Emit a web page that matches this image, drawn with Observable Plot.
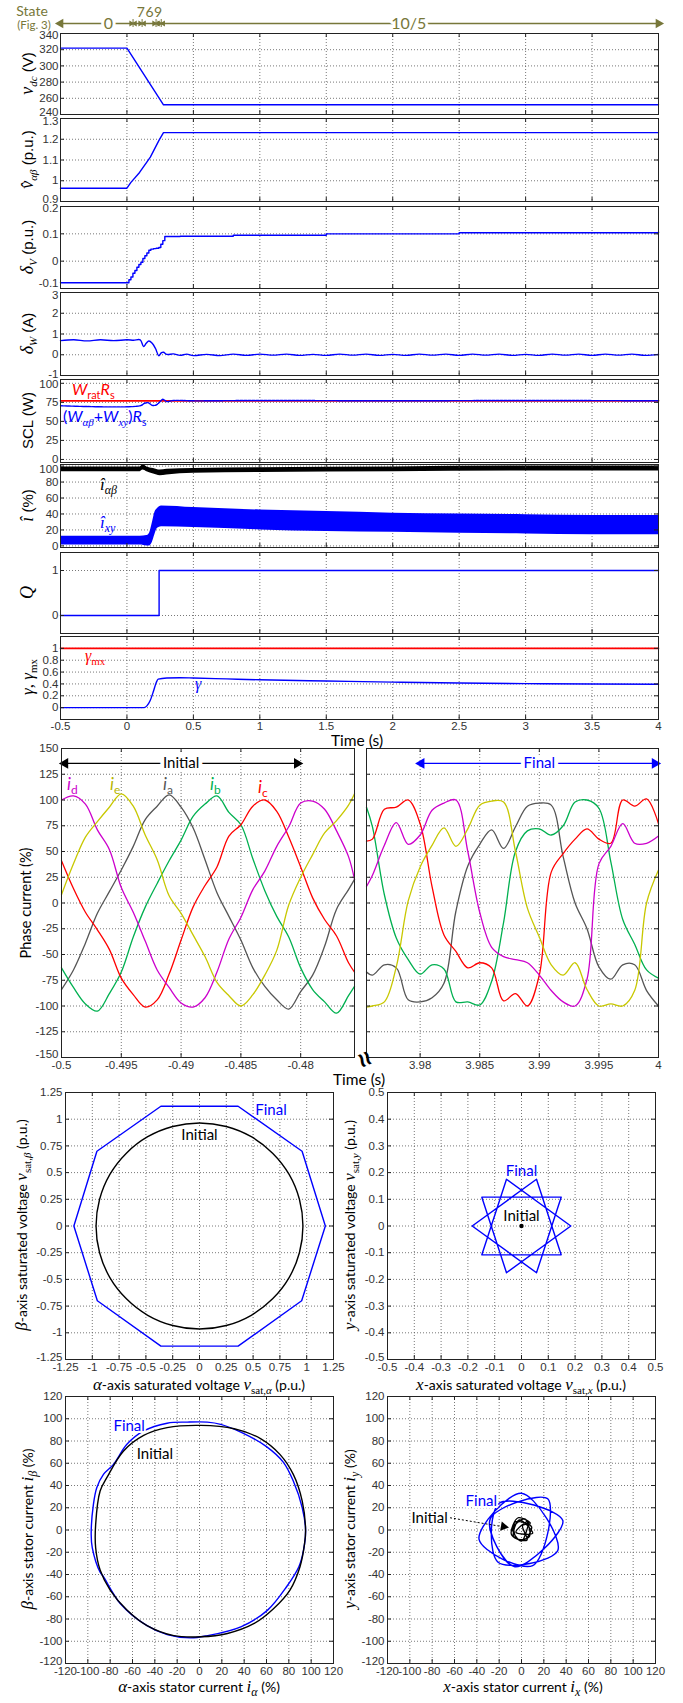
<!DOCTYPE html>
<html>
<head>
<meta charset="utf-8">
<script src="https://cdn.jsdelivr.net/npm/d3@7"></script>
<script src="https://cdn.jsdelivr.net/npm/@observablehq/plot@0.6"></script>
<style>
html,body{margin:0;padding:0;background:#fff;}
#page{position:relative;width:683px;height:1703px;overflow:hidden;background:#fff;}
#page svg{position:absolute;overflow:visible;background:transparent;max-width:none;}
</style>
</head>
<body>
<div id="page"></div>
<script>
// ================= DATA =================
// State row (Fig. 3)
const stateStart = [-0.5, 0.046, 0.114, 0.219, 0.258];
const stateEnd   = [0.046, 0.114, 0.219, 0.258, 4];
const stateLabel = ["0", "7", "6", "9", "10/5"];
const stateLabelT = [-0.14, 0.104, 0.17, 0.235, 2.12];

const timeTicks = [-0.5, 0, 0.5, 1, 1.5, 2, 2.5, 3, 3.5, 4];

// v_dc (V)
const vdcT = [-0.5, 0, 0.275, 4];
const vdcV = [322, 322, 252, 252];
// v^_ab (p.u.)
const vabT = [-0.5, 0, 0.03, 0.095, 0.176, 0.242, 0.275, 4];
const vabV = [0.964, 0.964, 0.992, 1.04, 1.114, 1.196, 1.232, 1.232];
// delta_V (p.u.)
const dvT = [-0.5, 0, 0.015, 0.03, 0.045, 0.06, 0.075, 0.09, 0.105, 0.12, 0.135, 0.15, 0.165, 0.18, 0.2, 0.22, 0.24, 0.255, 0.27, 0.285, 0.4, 0.8, 1.5, 2.5, 4];
const dvV = [-0.079, -0.079, -0.068, -0.058, -0.044, -0.034, -0.022, -0.012, -0.004, 0.01, 0.02, 0.03, 0.04, 0.044, 0.046, 0.047, 0.05, 0.062, 0.075, 0.09, 0.091, 0.095, 0.1, 0.104, 0.107];
// delta_W (A)
const dwT = [-0.5, -0.4, -0.3, -0.2, -0.1, 0, 0.05, 0.1, 0.125, 0.145, 0.165, 0.19, 0.215, 0.24, 0.26, 0.275, 0.3, 0.35, 0.4, 0.45,
  0.5, 0.6, 0.7, 0.8, 0.9, 1, 1.1, 1.2, 1.3, 1.4, 1.5, 1.6, 1.7, 1.8, 1.9, 2, 2.1, 2.2, 2.3, 2.4, 2.5, 2.6, 2.7, 2.8, 2.9, 3, 3.1, 3.2, 3.3, 3.4, 3.5, 3.6, 3.7, 3.8, 3.9, 4];
const dwV = [0.68, 0.72, 0.67, 0.72, 0.68, 0.72, 0.7, 0.72, 0.4, 0.55, 0.66, 0.55, 0.3, -0.05, 0.1, 0.12, 0.02, 0.04, -0.03, 0.03,
  -0.04, 0.02, -0.04, 0.03, -0.03, 0.03, -0.02, 0.03, -0.03, 0.02, -0.03, 0.03, -0.02, 0.03, -0.03, 0.02, -0.03, 0.03, -0.02, 0.03,
  -0.03, 0.03, -0.02, 0.03, -0.03, 0.02, -0.03, 0.03, -0.02, 0.03, -0.03, 0.03, -0.02, 0.03, -0.03, 0.02];
// SCL (W)
const sclRedT = [-0.5, 4];
const sclRedV = [77, 77];
const sclT = [-0.5, 0.1, 0.13, 0.16, 0.19, 0.22, 0.25, 0.27, 0.3, 0.35, 0.5, 1, 2, 3, 4];
const sclV = [70.5, 70.5, 73.5, 74.5, 71, 71.5, 76, 79, 76, 77.5, 77, 77.5, 77, 77.5, 77];
// i^ (%) bands
const ixyT  = [-0.5, 0, 0.1, 0.15, 0.17, 0.19, 0.21, 0.23, 0.26, 0.5, 1, 1.5, 2, 2.5, 3, 3.5, 4];
const ixyLo = [1, 1, 1, 0, 0, 4, 14, 22, 24, 23, 20, 18, 17, 16, 15, 14, 14];
const ixyHi = [12, 12, 12, 13, 16, 28, 42, 47, 50, 48, 45, 43, 41, 40, 39, 38, 38];
const iabT  = [-0.5, 0, 0.1, 0.12, 0.15, 0.2, 0.25, 0.3, 0.5, 1, 2, 3, 4];
const iabLo = [93, 93, 93, 95, 93, 90, 88, 89, 91, 92, 93, 94, 94];
const iabHi = [99, 99, 99, 102, 99, 97, 95, 96, 97, 98, 99, 100, 100];
// Q
const qT = [-0.5, 0.242, 0.242, 4];
const qV = [0, 0, 1, 1];
// gamma
const gmxT = [-0.5, 4];
const gmxV = [1, 1];
const gT = [-0.5, 0.127, 0.15, 0.175, 0.2, 0.22, 0.235, 0.3, 0.4, 0.5, 0.75, 1, 1.5, 2, 2.5, 3, 3.5, 4];
const gV = [0, 0, 0.03, 0.12, 0.28, 0.42, 0.48, 0.5, 0.505, 0.5, 0.485, 0.47, 0.45, 0.43, 0.415, 0.405, 0.4, 0.395];

// Phase currents (%)
const tInit = [-0.5, -0.499, -0.498, -0.497, -0.496, -0.495, -0.494, -0.493, -0.492, -0.491, -0.49, -0.489, -0.488, -0.487, -0.486, -0.485, -0.484, -0.483, -0.482, -0.481, -0.48, -0.479, -0.478, -0.477, -0.476, -0.4755];
const iaInit = [-84, -65, -39, -10, 11, 32, 55, 81, 94, 105, 93, 73, 42, 10, -13, -36, -63, -81, -94, -103, -86, -70, -42, -6, 13, 23];
const ibInit = [-63, -82, -98, -105, -88, -67, -33, -4, 19, 41, 61, 84, 96, 104, 88, 76, 43, 12, -13, -33, -63, -84, -96, -107, -90, -81];
const icInit = [41, 14, -9, -26, -45, -73, -89, -101, -94, -69, -36, -4, 17, 35, 65, 76, 94, 100, 89, 64, 35, 5, -16, -32, -58, -67];
const idInit = [100, 104, 96, 71, 52, 15, -9, -37, -65, -82, -97, -101, -92, -67, -35, -14, 13, 31, 55, 74, 97, 99, 91, 70, 45, 23];
const ieInit = [8, 38, 64, 79, 93, 106, 94, 66, 42, 7, -10, -31, -52, -77, -90, -100, -89, -70, -46, -2, 25, 47, 68, 80, 95, 106];

const tFin = [3.9755, 3.976, 3.977, 3.978, 3.979, 3.98, 3.981, 3.982, 3.983, 3.984, 3.985, 3.986, 3.987, 3.988, 3.989, 3.99, 3.991, 3.992, 3.993, 3.994, 3.995, 3.996, 3.997, 3.998, 3.999, 4];
const iaFin = [-67, -70, -60, -63, -94, -96, -92, -78, -8, 36, 57, 71, 53, 74, 94, 97, 95, 45, 0, -25, -62, -74, -60, -60, -85, -100];
const ibFin = [93, 74, 8, -34, -55, -69, -60, -64, -96, -96, -99, -76, -19, 50, 70, 72, 66, 75, 98, 100, 92, 40, -16, -40, -65, -73];
const icFin = [60, 62, 91, 93, 100, 77, 16, -31, -47, -63, -58, -63, -95, -88, -100, -70, 30, 48, 62, 72, 62, 58, 100, 94, 101, 77];
const idFin = [16, 27, 56, 78, 57, 66, 90, 97, 100, 50, -9, -43, -52, -55, -58, -70, -85, -96, -100, -74, 38, 55, 77, 58, 58, 65];
const ieFin = [-101, -100, -96, -62, 2, 35, 56, 73, 55, 72, 95, 99, 98, 50, -5, -33, -60, -70, -58, -84, -100, -98, -100, -85, 0, 32];

const phaseTicksL = [-0.5, -0.495, -0.49, -0.485, -0.48];
const phaseTicksR = [3.98, 3.985, 3.99, 3.995, 4];
const phaseYTicks = [-150, -125, -100, -75, -50, -25, 0, 25, 50, 75, 100, 125, 150];

// alpha-beta saturated voltage (p.u.)
const vsatInitA = [0.965, 0.932, 0.836, 0.682, 0.483, 0.25, 0, -0.25, -0.483, -0.682, -0.836, -0.932, -0.965, -0.932, -0.836, -0.682, -0.483, -0.25, 0, 0.25, 0.483, 0.682, 0.836, 0.932];
const vsatInitB = [0, 0.25, 0.483, 0.682, 0.836, 0.932, 0.965, 0.932, 0.836, 0.682, 0.483, 0.25, 0, -0.25, -0.483, -0.682, -0.836, -0.932, -0.965, -0.932, -0.836, -0.682, -0.483, -0.25];
const vsatFinA = [1.174, 0.957, 0.36, -0.36, -0.957, -1.172, -0.953, -0.36, 0.36, 0.953];
const vsatFinB = [0, 0.7, 1.121, 1.121, 0.7, 0, -0.7, -1.125, -1.125, -0.7];
const abVTicks = [-1.25, -1, -0.75, -0.5, -0.25, 0, 0.25, 0.5, 0.75, 1, 1.25];
// x-y saturated voltage (p.u.)
const vsatFinX = [0.184, -0.056, -0.148, 0.148, 0.056, -0.184, 0.056, 0.148, -0.148, -0.056];
const vsatFinY = [0, 0.175, -0.108, -0.108, 0.175, 0, -0.175, 0.108, 0.108, -0.175];
const vsatInitX = [0];
const vsatInitY = [0];
const xyVTicks = [-0.5, -0.4, -0.3, -0.2, -0.1, 0, 0.1, 0.2, 0.3, 0.4, 0.5];
// alpha-beta stator current (%)
const iabInitA = [95, 92, 84, 72, 55, 31, 1, -29, -50, -68, -83, -89, -93, -93, -89, -80, -65, -47, -23, 1, 25, 49, 66, 81, 90, 94];
const iabInitB = [0, 26, 50, 68, 82, 91, 94, 92, 85, 71, 47, 35, 5, -16, -36, -54, -72, -86, -95, -96, -93, -84, -71, -54, -33, -13];
const iabFinA = [95, 92, 84, 75, 60, 37, 19, 7, -11, -29, -50, -65, -77, -86, -92, -95, -97, -96, -89, -86, -71, -47, -29, -8, 7, 37, 61, 78, 89, 93];
const iabFinB = [0, 20, 44, 61, 75, 88, 95, 97, 97, 96, 89, 77, 59, 50, 38, 23, -4, -16, -38, -42, -66, -86, -94, -97, -95, -87, -72, -51, -33, -19];
// x-y stator current (%): spikes visited in star order
const ixyFinX = [37, -20, -21, 32.5, 0, -38, 10, 23.5, -28, -6];
const ixyFinY = [8.5, 24, -29, -18.4, 33, -8.5, -32, 28, 10, -33];
const ixyInitX = [8, -3, -9, 2, 9, -6, -4, 7, 3, -8, 0, 6, -5, 10, -2, -7, 5, 1];
const ixyInitY = [6, 11, -4, -9, 3, 7, -8, -6, 10, 1, -10, 8, -2, -3, 9, -6, -9, 4];
const curTicks = [-120, -100, -80, -60, -40, -20, 0, 20, 40, 60, 80, 100, 120];

// ================= STYLE / HELPERS =================
const page = document.getElementById("page");
const SANS = "'Liberation Sans', Arial, Helvetica, sans-serif";
const SERIF = "'Liberation Serif', 'Times New Roman', serif";
const CAL = "Lato, 'Open Sans', sans-serif";
const BLUE = "#0000ff", RED = "#ff0000", OLIVE = "#77773a";
const COL = {a: "#555555", b: "#00b050", c: "#ff0000", d: "#cc00cc", e: "#c8c800"};
const GRID = {stroke: "#555", strokeOpacity: 1, strokeDasharray: "1,2", strokeWidth: 0.8};
const fmt = d => String(d);
const baseStyle = {fontFamily: SANS, fontSize: "11.5px", color: "#333", background: "transparent", overflow: "visible"};

function panel(o) {
  const {left = 0, top, width = 683, height, mL, mR, mT = 1, mB = 1, xd, yd, xt, yt,
         xAxis = false, yAxis = true, xPad = 3, yPad = 2, nudge = [], marks} = o;
  const w = width - mL - mR, h = height - mT - mB;
  const tk = {stroke: "#222", strokeWidth: 1};
  const list = [
    Plot.gridX(xt, GRID),
    Plot.gridY(yt, GRID),
    ...marks,
    Plot.tickX(xt, {x: d => d, insetTop: h - 4, ...tk}),
    Plot.tickX(xt, {x: d => d, insetBottom: h - 4, ...tk}),
    Plot.tickY(yt, {y: d => d, insetRight: w - 4, ...tk}),
    Plot.tickY(yt, {y: d => d, insetLeft: w - 4, ...tk}),
    Plot.frame({stroke: "#222", strokeWidth: 1})
  ];
  if (yAxis) {
    const moved = nudge.map(d => d[0]);
    const plain = yt.filter(v => !moved.includes(v));
    const ax = {anchor: "left", tickSize: 0, tickPadding: yPad, tickFormat: fmt, label: null};
    list.push(Plot.axisY(plain, ax));
    for (const [v, dy] of nudge) list.push(Plot.axisY([v], {...ax, dy}));
  }
  if (xAxis) list.push(Plot.axisX(xt, {anchor: "bottom", tickSize: 0, tickPadding: xPad, tickFormat: fmt, label: null}));
  const svg = Plot.plot({
    width, height, marginLeft: mL, marginRight: mR, marginTop: mT, marginBottom: mB,
    x: xAxis ? {domain: xd} : {domain: xd, axis: null},
    y: yAxis ? {domain: yd} : {domain: yd, axis: null},
    style: baseStyle,
    marks: list
  });
  svg.style.left = left + "px";
  svg.style.top = top + "px";
  page.appendChild(svg);
  return svg;
}

// ================= STATE ROW =================
{
  const svg = Plot.plot({
    width: 683, height: 34, marginLeft: 60, marginRight: 25, marginTop: 0, marginBottom: 0,
    x: {domain: [-0.5, 4], axis: null},
    y: {domain: [34, 0], axis: null},
    style: baseStyle,
    marks: [
      Plot.ruleY([23], {x1: -0.5, x2: 4, stroke: OLIVE, strokeWidth: 1.3}),
      Plot.ruleX(stateStart.slice(1), {x: d => d, y1: 19, y2: 27, stroke: OLIVE, strokeWidth: 1}),
      Plot.dot([stateStart[0], stateEnd[stateEnd.length - 1]], {x: d => d, y: 23, symbol: "triangle", rotate: d => d < 0 ? -90 : 90, r: 3.6, fill: OLIVE, stroke: "none"}),
      Plot.dot(stateStart.slice(1), {x: d => d, y: 23, symbol: "triangle", rotate: 90, r: 2.2, fill: OLIVE, stroke: "none", dx: -2}),
      Plot.dot(stateEnd.slice(0, -1), {x: d => d, y: 23, symbol: "triangle", rotate: -90, r: 2.2, fill: OLIVE, stroke: "none", dx: 2}),
      Plot.text(stateLabel, {x: stateLabelT, y: (d, i) => (i === 0 || i === 4) ? 23 : 12,
        fill: OLIVE, stroke: (d, i) => (i === 0 || i === 4) ? "white" : "none", strokeWidth: 6, paintOrder: "stroke",
        fontFamily: CAL, fontSize: (d, i) => (i === 0 || i === 4) ? 16 : 14})
    ]
  });
  svg.style.left = "0px"; svg.style.top = "0px";
  page.appendChild(svg);
}

// ================= TIME STACK =================
const XS = {mL: 60, mR: 25, xd: [-0.5, 4], xt: timeTicks};
const LW = 1.4;
panel({...XS, top: 32, height: 83, yd: [240, 340], yt: [240, 260, 280, 300, 320, 340], nudge: [[340, 2], [240, -2]],
  marks: [Plot.line(vdcV, {x: vdcT, y: vdcV, stroke: BLUE, strokeWidth: LW})]});
panel({...XS, top: 117, height: 85, yd: [0.9, 1.3], yt: [0.9, 1, 1.1, 1.2, 1.3], nudge: [[1.3, 3], [0.9, -2]],
  marks: [Plot.line(vabV, {x: vabT, y: vabV, stroke: BLUE, strokeWidth: LW})]});
panel({...XS, top: 205, height: 84, yd: [-0.1, 0.2], yt: [-0.1, 0, 0.1, 0.2], nudge: [[0.2, 2], [-0.1, -5]],
  marks: [Plot.line(dvV, {x: dvT, y: dvV, stroke: BLUE, strokeWidth: LW, curve: "step-after"})]});
panel({...XS, top: 291, height: 85, yd: [-1, 3], yt: [-1, 0, 1, 2, 3], nudge: [[3, 3], [-1, -1]],
  marks: [Plot.line(dwV, {x: dwT, y: dwV, stroke: BLUE, strokeWidth: LW, curve: "catmull-rom"})]});
panel({...XS, top: 378, height: 85, yd: [-4, 105], yt: [0, 25, 50, 75, 100], nudge: [[100, 1]],
  marks: [
    Plot.line(sclRedV, {x: sclRedT, y: sclRedV, stroke: RED, strokeWidth: 1.8}),
    Plot.line(sclV, {x: sclT, y: sclV, stroke: BLUE, strokeWidth: LW, strokeDasharray: "3,1", curve: "catmull-rom"})
  ]});
panel({...XS, top: 463, height: 85, yd: [-2, 102], yt: [0, 20, 40, 60, 80, 100], nudge: [[100, 3]],
  marks: [
    Plot.areaY(ixyHi, {x: ixyT, y1: ixyLo, y2: ixyHi, fill: BLUE, curve: "monotone-x"}),
    Plot.areaY(iabHi, {x: iabT, y1: iabLo, y2: iabHi, fill: "#000", curve: "monotone-x"})
  ]});
panel({...XS, top: 551, height: 83, yd: [-0.4, 1.4], yt: [0, 1],
  marks: [Plot.line(qV, {x: qT, y: qV, stroke: BLUE, strokeWidth: LW})]});
panel({...XS, top: 635, height: 104, mB: 20, yd: [-0.2, 1.2], yt: [0, 0.2, 0.4, 0.6, 0.8, 1],
  xAxis: true, xPad: 2,
  marks: [
    Plot.line(gmxV, {x: gmxT, y: gmxV, stroke: RED, strokeWidth: 1.6}),
    Plot.line(gV, {x: gT, y: gV, stroke: BLUE, strokeWidth: LW, curve: "monotone-x"})
  ]});

// ================= PHASE CURRENTS =================
function phaseLines(t, a, b, c, d, e) {
  return [[a, COL.a], [b, COL.b], [c, COL.c], [d, COL.d], [e, COL.e]].map(([v, col]) =>
    Plot.line(v, {x: t, y: v, stroke: col, strokeWidth: 1.3, curve: "catmull-rom"}));
}
panel({top: 747, height: 331, mL: 61, mR: 329, mB: 21, xd: [-0.5, -0.4755], yd: [-150, 150],
  xt: phaseTicksL, yt: phaseYTicks, xAxis: true, xPad: 3, yPad: 3, nudge: [[-150, -3]],
  marks: [
    ...phaseLines(tInit, iaInit, ibInit, icInit, idInit, ieInit),
    Plot.ruleY([135.5], {x1: -0.4997, x2: -0.4803, stroke: "#000", strokeWidth: 1.2}),
    Plot.dot([-0.4997, -0.4803], {x: d => d, y: 135.5, symbol: "triangle", rotate: d => d < -0.49 ? -90 : 90, r: 4, fill: "#000", stroke: "none"}),
    Plot.text(["Initial"], {x: -0.49, y: 135.5, fill: "#000", stroke: "white", strokeWidth: 8, paintOrder: "stroke", fontFamily: CAL, fontSize: 15})
  ]});
panel({top: 747, height: 331, mL: 366, mR: 25, mB: 21, xd: [3.9755, 4], yd: [-150, 150],
  xt: phaseTicksR, yt: phaseYTicks, xAxis: true, yAxis: false, xPad: 3,
  marks: [
    ...phaseLines(tFin, iaFin, ibFin, icFin, idFin, ieFin),
    Plot.ruleY([135.5], {x1: 3.9801, x2: 3.9997, stroke: BLUE, strokeWidth: 1.2}),
    Plot.dot([3.9801, 3.9997], {x: d => d, y: 135.5, symbol: "triangle", rotate: d => d < 3.99 ? -90 : 90, r: 4, fill: BLUE, stroke: "none"}),
    Plot.text(["Final"], {x: 3.99, y: 135.5, fill: BLUE, stroke: "white", strokeWidth: 8, paintOrder: "stroke", fontFamily: CAL, fontSize: 15})
  ]});

// ================= XY PLOTS =================
const TXT = {fontFamily: CAL, fontSize: 15, stroke: "white", strokeWidth: 4, paintOrder: "stroke"};
panel({top: 1091, height: 289, mL: 65, mR: 350, mB: 21, xd: [-1.25, 1.25], yd: [-1.25, 1.25],
  xt: abVTicks, yt: abVTicks, xAxis: true, yPad: 3, nudge: [[-1.25, -2]],
  marks: [
    Plot.line(vsatFinA, {x: vsatFinA, y: vsatFinB, stroke: BLUE, strokeWidth: 1.4, curve: "linear-closed"}),
    Plot.line(vsatInitA, {x: vsatInitA, y: vsatInitB, stroke: "#000", strokeWidth: 1.4, curve: "catmull-rom-closed"}),
    Plot.text(["Final"], {x: 0.667, y: 1.08, fill: BLUE, ...TXT}),
    Plot.text(["Initial"], {x: 0, y: 0.85, fill: "#000", ...TXT})
  ]});
panel({top: 1091, height: 289, mL: 387, mR: 28, mB: 21, xd: [-0.5, 0.5], yd: [-0.5, 0.5],
  xt: xyVTicks, yt: xyVTicks, xAxis: true, yPad: 3, nudge: [[-0.5, -2]],
  marks: [
    Plot.line(vsatFinX, {x: vsatFinX, y: vsatFinY, stroke: BLUE, strokeWidth: 1.4, curve: "linear-closed"}),
    Plot.dot(vsatInitX, {x: vsatInitX, y: vsatInitY, r: 2.2, fill: "#000", stroke: "none"}),
    Plot.text(["Final"], {x: 0, y: 0.205, fill: BLUE, ...TXT, stroke: "none"}),
    Plot.text(["Initial"], {x: 0, y: 0.036, fill: "#000", ...TXT, stroke: "none"})
  ]});
panel({top: 1395, height: 290, mL: 65, mR: 350, mB: 22, xd: [-120, 120], yd: [-120, 120],
  xt: curTicks, yt: curTicks, xAxis: true, yPad: 3, nudge: [[-120, -2]],
  marks: [
    Plot.line(iabFinA, {x: iabFinA, y: iabFinB, stroke: BLUE, strokeWidth: 1.4, curve: "catmull-rom-closed"}),
    Plot.line(iabInitA, {x: iabInitA, y: iabInitB, stroke: "#000", strokeWidth: 1.4, curve: "catmull-rom-closed"}),
    Plot.text(["Final"], {x: -63, y: 93, fill: BLUE, ...TXT}),
    Plot.text(["Initial"], {x: -40, y: 68, fill: "#000", ...TXT})
  ]});
panel({top: 1395, height: 290, mL: 387, mR: 28, mB: 22, xd: [-120, 120], yd: [-120, 120],
  xt: curTicks, yt: curTicks, xAxis: true, yPad: 3, nudge: [[-120, -2]],
  marks: [
    Plot.line(ixyFinX, {x: ixyFinX, y: ixyFinY, stroke: BLUE, strokeWidth: 1.4, curve: "catmull-rom-closed"}),
    Plot.line(ixyInitX, {x: ixyInitX, y: ixyInitY, stroke: "#000", strokeWidth: 1.3, curve: "catmull-rom-closed"}),
    Plot.link([0], {x1: -64, y1: 11, x2: -17, y2: 3, stroke: "#000", strokeWidth: 1, strokeDasharray: "2,2"}),
    Plot.dot([0], {x: -16, y: 3, symbol: "triangle", rotate: 100, r: 3.5, fill: "#000", stroke: "none"}),
    Plot.text(["Final"], {x: -36, y: 25.6, fill: BLUE, ...TXT}),
    Plot.text(["Initial"], {x: -66, y: 11, fill: "#000", textAnchor: "end", ...TXT})
  ]});

// ================= RICH TEXT OVERLAY =================
const ov = d3.select(page).append("svg")
  .attr("width", 683).attr("height", 1703)
  .style("left", "0px").style("top", "0px").style("pointer-events", "none");

function rich(x, y, parts, {rotate = 0, anchor = "middle", fill = "#000", weight = "normal"} = {}) {
  const t = ov.append("text")
    .attr("transform", `translate(${x},${y}) rotate(${rotate})`)
    .attr("text-anchor", anchor).attr("fill", fill).attr("font-weight", weight);
  let shift = 0;
  for (const p of parts) {
    const target = p.sub ? (p.dy || 3.5) : 0;
    const s = t.append("tspan").text(p.t)
      .attr("font-family", p.f || CAL)
      .attr("font-size", p.s || 15)
      .attr("font-style", p.i ? "italic" : "normal");
    if (target !== shift) { s.attr("dy", target - shift); shift = target; }
    if (p.fill) s.attr("fill", p.fill);
  }
  return t;
}
const R = {rotate: -90};
const S = (t, o = {}) => ({t, f: SANS, s: 15, ...o});
const M = (t, o = {}) => ({t, f: SERIF, s: 18, i: true, ...o});
const sub = (t, o = {}) => ({t, f: SERIF, s: 11, i: true, sub: true, ...o});

// State header
rich(32, 16, [{t: "State", s: 14}], {fill: OLIVE});
rich(34, 29, [{t: "(Fig. 3)", s: 11.5}], {fill: OLIVE});

// time-stack y labels
const YLX = 33;
rich(YLX, 73.5, [M("v"), sub("dc"), S(" (V)")], R);
rich(YLX, 159.5, [M("v\u0302"), sub("αβ"), S(" (p.u.)")], R);
rich(YLX, 247, [M("δ"), sub("V"), S(" (p.u.)")], R);
rich(YLX, 333.5, [M("δ"), sub("W"), S(" (A)")], R);
rich(YLX, 420.5, [S("SCL (W)")], R);
rich(YLX, 505.5, [M("î"), S(" (%)")], R);
rich(YLX, 592.5, [M("Q")], R);
rich(YLX, 677, [M("γ", {s: 17}), {t: ", ", f: SERIF, s: 17}, M("γ", {s: 17}), sub("mx", {i: false})], R);

// in-panel annotations
rich(72, 395, [{t: "W", i: true, s: 16}, {t: "rat", s: 11, sub: true}, {t: "R", i: true, s: 16}, {t: "s", s: 11, sub: true}], {anchor: "start", fill: RED});
rich(63, 422, [{t: "(", s: 16}, {t: "W", i: true, s: 16}, {t: "αβ", f: SERIF, i: true, s: 11, sub: true}, {t: "+", s: 16}, {t: "W", i: true, s: 16}, {t: "xy", f: SERIF, i: true, s: 11, sub: true}, {t: ")", s: 16}, {t: "R", i: true, s: 16}, {t: "s", s: 11, sub: true}], {anchor: "start", fill: BLUE});
rich(100, 490, [M("î", {s: 17}), sub("αβ", {s: 12})], {anchor: "start", fill: "#000"});
rich(100, 528, [M("î", {s: 17}), sub("xy", {s: 12})], {anchor: "start", fill: BLUE});
rich(85, 661, [M("γ", {s: 16}), sub("mx", {i: false})], {anchor: "start", fill: RED});
rich(195, 689, [M("γ", {s: 16})], {anchor: "start", fill: BLUE});
rich(357, 746, [{t: "Time (s)", s: 15.5}]);

// phase chart
rich(31, 903, [{t: "Phase current (%)", s: 14.5}], R);
rich(359, 1085, [{t: "Time (s)", s: 15.5}]);
rich(357, 1063, [{t: "≈", f: SANS, s: 26}], {rotate: 65, weight: "bold"});
const phaseLab = [["d", 67, 790], ["e", 110, 790], ["a", 163, 790], ["b", 210, 790], ["c", 258, 793]];
for (const [k, x, y] of phaseLab) rich(x, y, [{t: "i", i: true, s: 17}, {t: k, s: 12, sub: true}], {anchor: "start", fill: k === "e" ? "#b5b500" : COL[k]});

// XY axis labels
const G = (t) => ({t, f: SERIF, s: 17, i: true});
const g2 = (t, o = {}) => ({t, f: SERIF, s: 11, sub: true, ...o});
const C = (t) => ({t, s: 14});
rich(199, 1390, [G("α"), C("-axis saturated voltage "), G("v"), g2("sat,"), g2("α", {i: true}), C(" (p.u.)")]);
rich(27, 1225, [G("β"), C("-axis saturated voltage "), G("v"), g2("sat,"), g2("β", {i: true}), C(" (p.u.)")], R);
rich(521, 1390, [G("x"), C("-axis saturated voltage "), G("v"), g2("sat,"), g2("x", {i: true}), C(" (p.u.)")]);
rich(355, 1225, [G("y"), C("-axis saturated voltage "), G("v"), g2("sat,"), g2("y", {i: true}), C(" (p.u.)")], R);
rich(199, 1692, [G("α"), C("-axis stator current "), G("i"), g2("α", {i: true, s: 12}), C(" (%)")]);
rich(33, 1529, [G("β"), C("-axis stator current "), G("i"), g2("β", {i: true, s: 12}), C(" (%)")], R);
rich(523, 1692, [G("x"), C("-axis stator current "), G("i"), g2("x", {i: true, s: 12}), C(" (%)")]);
rich(355, 1529, [G("y"), C("-axis stator current "), G("i"), g2("y", {i: true, s: 12}), C(" (%)")], R);
</script>
</body>
</html>
